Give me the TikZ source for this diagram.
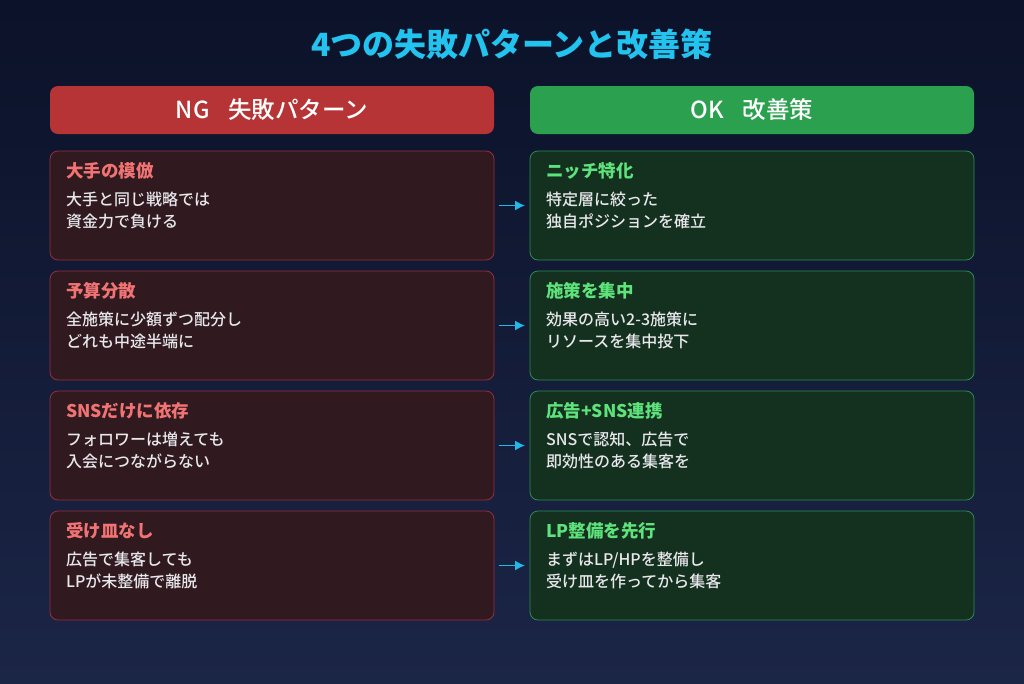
\documentclass[tikz,border=0pt]{standalone}
\usepackage{fontspec}
\setmainfont{Noto Sans CJK JP}
\newfontfamily\medfont{Noto Sans CJK JP Medium}
\usepackage{xcolor}
\usetikzlibrary{positioning, arrows.meta}
\definecolor{bgTop}{HTML}{0B1229}
\definecolor{bgBottom}{HTML}{1B2546}
\definecolor{titleColor}{HTML}{22C3EE}
\definecolor{ngColor}{HTML}{B63435}
\definecolor{okColor}{HTML}{2BA14F}
\definecolor{ngFill}{HTML}{301A20}
\definecolor{ngLine}{HTML}{9A2D3A}
\definecolor{okFill}{HTML}{14301F}
\definecolor{okLine}{HTML}{2A8E52}
\definecolor{ngText}{HTML}{F27373}
\definecolor{okText}{HTML}{5EE27C}
\definecolor{bodyText}{HTML}{E8E8EC}
\definecolor{flowColor}{HTML}{22B8EA}

\begin{document}
\begin{tikzpicture}[
  x=1pt, y=-1pt,
  head/.style={
    rectangle,
    rounded corners=8pt,
    outer sep=0pt,
    minimum width=444pt,
    minimum height=48pt,
    text=white,
    font=\medfont\fontsize{23.5}{26}\selectfont
  },
  ngcard/.style={
    rectangle,
    draw=ngLine,
    fill=ngFill,
    rounded corners=8pt,
    outer sep=0pt,
    line width=0.8pt,
    minimum width=444pt,
    minimum height=109pt
  },
  okcard/.style={ngcard, draw=okLine, fill=okFill},
  ngtitle/.style={anchor=west, inner sep=0pt, text=ngText, font=\fontsize{17.5}{20}\selectfont\bfseries},
  oktitle/.style={ngtitle, text=okText},
  cardbody/.style={
    anchor=north west,
    inner sep=0pt,
    align=left,
    text=bodyText,
    font=\medfont\fontsize{16}{22}\selectfont
  },
  flow/.style={
    -{Latex[length=10pt,width=10pt]},
    draw=flowColor,
    line width=1.6pt
  }
]
  % Background and frame
  \shade[top color=bgTop, bottom color=bgBottom] (0,0) rectangle (1024,683);
  \useasboundingbox (0,0) rectangle (1024,683);

  % Title
  \node[text=titleColor, font=\fontsize{32}{36}\selectfont\bfseries] (title) at (512,44) {4つの失敗パターンと改善策};

  % Column headers
  \node[head, fill=ngColor] (ngHead) at (272,110) {NG\hspace{0.8em}失敗パターン};
  \node[head, fill=okColor] (okHead) at (752,110) {OK\hspace{0.8em}改善策};

  % NG cards
  \node[ngcard, below=17pt of ngHead] (ng1) {};
  \node[ngcard, below=11pt of ng1] (ng2) {};
  \node[ngcard, below=11pt of ng2] (ng3) {};
  \node[ngcard, below=11pt of ng3] (ng4) {};

  % OK cards
  \node[okcard, right=36pt of ng1] (ok1) {};
  \node[okcard, right=36pt of ng2] (ok2) {};
  \node[okcard, right=36pt of ng3] (ok3) {};
  \node[okcard, right=36pt of ng4] (ok4) {};

  % Card texts
  \node[ngtitle] (ng1t) at ([xshift=16pt,yshift=-19.5pt]ng1.north west) {大手の模倣};
  \node[cardbody] (ng1b) at ([xshift=16pt,yshift=-41pt]ng1.north west) {大手と同じ戦略では\\資金力で負ける};
  \node[ngtitle] (ng2t) at ([xshift=16pt,yshift=-19.5pt]ng2.north west) {予算分散};
  \node[cardbody] (ng2b) at ([xshift=16pt,yshift=-41pt]ng2.north west) {全施策に少額ずつ配分し\\どれも中途半端に};
  \node[ngtitle] (ng3t) at ([xshift=16pt,yshift=-19.5pt]ng3.north west) {SNSだけに依存};
  \node[cardbody] (ng3b) at ([xshift=16pt,yshift=-41pt]ng3.north west) {フォロワーは増えても\\入会につながらない};
  \node[ngtitle] (ng4t) at ([xshift=16pt,yshift=-19.5pt]ng4.north west) {受け皿なし};
  \node[cardbody] (ng4b) at ([xshift=16pt,yshift=-41pt]ng4.north west) {広告で集客しても\\LPが未整備で離脱};

  \node[oktitle] (ok1t) at ([xshift=16pt,yshift=-19.5pt]ok1.north west) {ニッチ特化};
  \node[cardbody] (ok1b) at ([xshift=16pt,yshift=-41pt]ok1.north west) {特定層に絞った\\独自ポジションを確立};
  \node[oktitle] (ok2t) at ([xshift=16pt,yshift=-19.5pt]ok2.north west) {施策を集中};
  \node[cardbody] (ok2b) at ([xshift=16pt,yshift=-41pt]ok2.north west) {効果の高い2-3施策に\\リソースを集中投下};
  \node[oktitle] (ok3t) at ([xshift=16pt,yshift=-19.5pt]ok3.north west) {広告+SNS連携};
  \node[cardbody] (ok3b) at ([xshift=16pt,yshift=-41pt]ok3.north west) {SNSで認知、広告で\\即効性のある集客を};
  \node[oktitle] (ok4t) at ([xshift=16pt,yshift=-19.5pt]ok4.north west) {LP整備を先行};
  \node[cardbody] (ok4b) at ([xshift=16pt,yshift=-41pt]ok4.north west) {まずはLP/HPを整備し\\受け皿を作ってから集客};

  % Connect cards with arrows
  \draw[flow] ([xshift=5pt]ng1.east) -- ([xshift=-5pt]ok1.west);
  \draw[flow] ([xshift=5pt]ng2.east) -- ([xshift=-5pt]ok2.west);
  \draw[flow] ([xshift=5pt]ng3.east) -- ([xshift=-5pt]ok3.west);
  \draw[flow] ([xshift=5pt]ng4.east) -- ([xshift=-5pt]ok4.west);
\end{tikzpicture}
\end{document}
